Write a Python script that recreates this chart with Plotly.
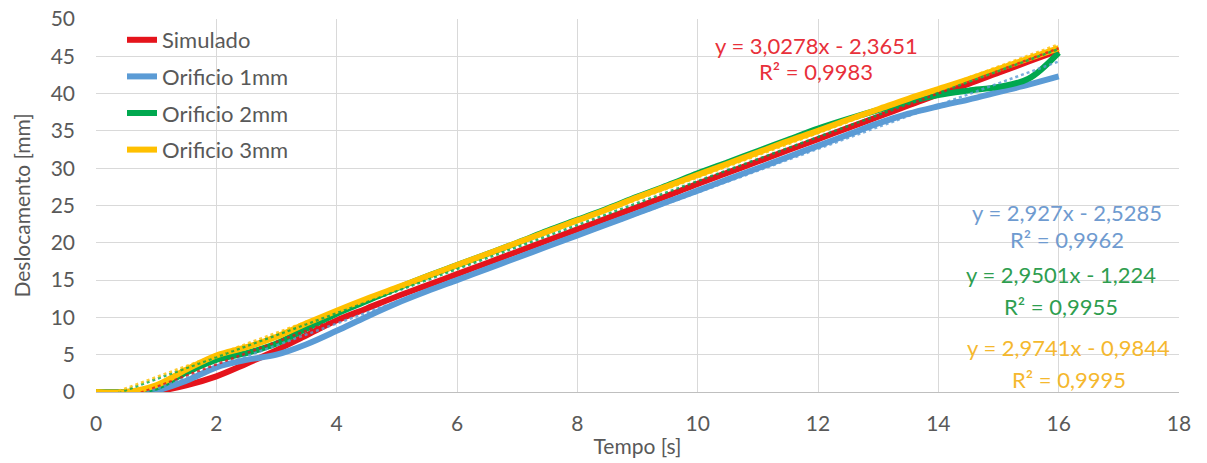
import plotly.graph_objects as go

t = [0, 0.5, 1, 1.5, 2, 2.5, 3, 3.5, 4, 4.5, 5, 5.5, 6, 6.5, 7, 7.5, 8, 8.5, 9, 9.5,
     10, 10.5, 11, 11.5, 12, 12.5, 13, 13.5, 14, 14.5, 15, 15.5, 16]

simulado = [0, 0, 0.1, 0.9, 2.1, 3.8, 5.6, 7.6, 9.6, 11.2, 12.8, 14.3, 15.8, 17.3, 18.8, 20.3,
            21.8, 23.3, 24.8, 26.3, 27.9, 29.4, 30.9, 32.4, 33.9, 35.4, 36.9, 38.4, 39.9,
            41.3, 42.8, 44.3, 45.8]
orificio1 = [0, 0, 0.2, 1.5, 3.3, 4.3, 5.0, 6.4, 8.2, 10.1, 11.9, 13.5, 15.0, 16.5, 18.0, 19.5,
             21.0, 22.5, 24.0, 25.5, 27.0, 28.5, 30.0, 31.5, 33.0, 34.5, 36.0, 37.3, 38.3,
             39.2, 40.2, 41.2, 42.3]
orificio2 = [0, 0, 0.6, 2.6, 4.3, 5.2, 6.5, 8.5, 10.5, 12.2, 13.9, 15.5, 17.0, 18.5, 20.0, 21.6,
             23.1, 24.6, 26.2, 27.7, 29.3, 30.8, 32.3, 33.8, 35.3, 36.6, 37.8, 38.9, 39.8,
             40.4, 40.9, 42.0, 45.5]
orificio3 = [0, 0, 0.9, 3.0, 4.9, 6.0, 7.4, 9.2, 10.9, 12.5, 14.0, 15.5, 17.0, 18.5, 20.0, 21.5,
             23.0, 24.5, 26.1, 27.6, 29.1, 30.6, 32.1, 33.6, 35.0, 36.5, 37.9, 39.3, 40.6,
             41.9, 43.3, 44.7, 46.1]

names = ["Simulado", "Orificio 1mm", "Orificio 2mm", "Orificio 3mm"]
colors = ["#E5141C", "#5B9BD5", "#00A84F", "#FFC000"]
text_colors = ["#E8303A", "#6F9BD0", "#2E9E4F", "#F5B82E"]
slopes = [3.0278, 2.927, 2.9501, 2.9741]
intercepts = [-2.3651, -2.5285, -1.224, -0.9844]
eq_labels = ["y = 3,0278x - 2,3651", "y = 2,927x - 2,5285", "y = 2,9501x - 1,224", "y = 2,9741x - 0,9844"]
r2_labels = ["R² = 0,9983", "R² = 0,9962", "R² = 0,9955", "R² = 0,9995"]
label_x = [11.97, 16.14, 16.04, 16.17]
eq_y = [46.5, 24.1, 15.7, 5.9]
r2_y = [42.9, 20.4, 11.5, 1.7]

series = [simulado, orificio1, orificio2, orificio3]

font_family = "Lato, 'Liberation Sans', sans-serif"
fig = go.Figure()

for i in range(4):
    fig.add_trace(go.Scatter(
        x=t, y=series[i], mode="lines", name=names[i], legendgroup=names[i],
        line=dict(color=colors[i], width=6, shape="spline"),
    ))

for i in range(4):
    x0, x1 = t[0], t[-1]
    fig.add_trace(go.Scatter(
        x=[x0, x1], y=[slopes[i] * x0 + intercepts[i], slopes[i] * x1 + intercepts[i]],
        mode="lines", showlegend=False, hoverinfo="skip",
        line=dict(color=colors[i], width=2.5, dash="dot"), opacity=0.8,
    ))

for i in range(4):
    fig.add_annotation(x=label_x[i], y=eq_y[i], text=eq_labels[i], showarrow=False,
                       font=dict(size=22, color=text_colors[i], family=font_family),
                       xanchor="center", yanchor="middle")
    fig.add_annotation(x=label_x[i], y=r2_y[i], text=r2_labels[i], showarrow=False,
                       font=dict(size=22, color=text_colors[i], family=font_family),
                       xanchor="center", yanchor="middle")

fig.update_layout(
    width=1207, height=463,
    margin=dict(l=96, r=28, t=19, b=71),
    plot_bgcolor="white", paper_bgcolor="white",
    font=dict(family=font_family, size=21, color="#595959"),
    legend=dict(x=0.024, y=1.0, xanchor="left", yanchor="top",
                bgcolor="rgba(0,0,0,0)", tracegroupgap=5,
                font=dict(size=22, color="#595959")),
    showlegend=True,
)
fig.update_xaxes(range=[0, 18], dtick=2, showgrid=True, gridcolor="#D9D9D9", gridwidth=1,
                 zeroline=False, showline=True, linecolor="#BFBFBF", linewidth=1,
                 ticks="", ticklabelstandoff=13, automargin=False,
                 title=dict(text="Tempo [s]", standoff=5, font=dict(size=21)),
                 tickfont=dict(size=21))
fig.update_yaxes(range=[0, 50], dtick=5, showgrid=True, gridcolor="#D9D9D9", gridwidth=1,
                 zeroline=False, showline=False, ticks="", ticklabelstandoff=20, automargin=False,
                 title=dict(text="Deslocamento [mm]", standoff=14, font=dict(size=21)),
                 tickfont=dict(size=21))

fig.write_html("out.html")
